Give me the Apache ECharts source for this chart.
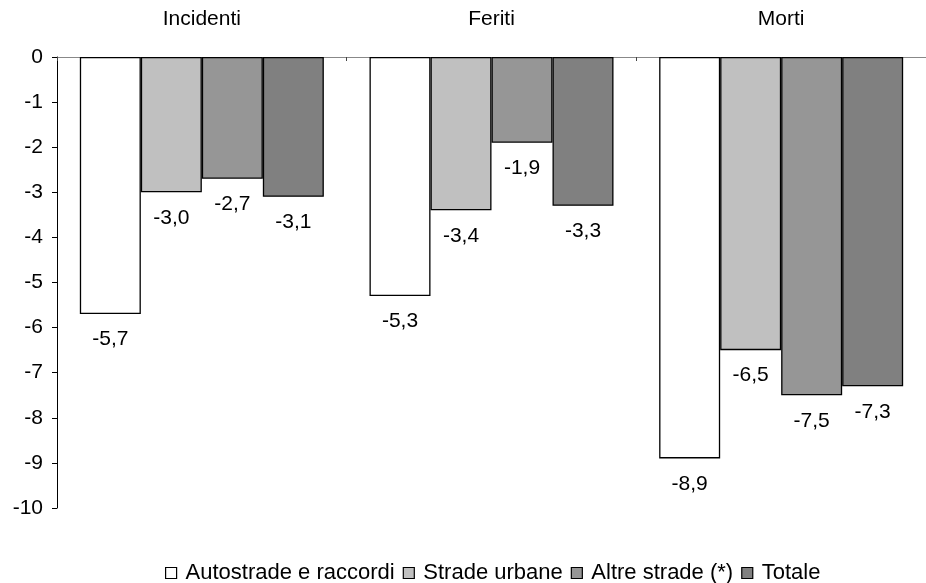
<!DOCTYPE html>
<html>
<head>
<meta charset="utf-8">
<script src="https://cdn.jsdelivr.net/npm/echarts@6/dist/echarts.min.js"></script>
<style>html,body{margin:0;padding:0;background:#fff;}#chart{width:926px;height:583px;}</style>
</head>
<body>
<div id="chart"></div>
<script>
var categories = ['Incidenti', 'Feriti', 'Morti'];
var seriesNames = ['Autostrade e raccordi', 'Strade urbane', 'Altre strade (*)', 'Totale'];
var autostrade = [-5.7, -5.3, -8.9];
var stradeUrbane = [-3.0, -3.4, -6.5];
var altreStrade = [-2.7, -1.9, -7.5];
var totale = [-3.1, -3.3, -7.3];
var yTicks = [0, -1, -2, -3, -4, -5, -6, -7, -8, -9, -10];

var allValues = [autostrade, stradeUrbane, altreStrade, totale];
var fills = ['#ffffff', '#c0c0c0', '#969696', '#808080'];
var FONT = '"Liberation Sans", Arial, sans-serif';

var chart = echarts.init(document.getElementById('chart'), null, {renderer: 'canvas'});
var series = seriesNames.map(function (name, i) {
  return {
    name: name,
    type: 'bar',
    data: allValues[i],
    barWidth: 61,
    barGap: '0%',
    itemStyle: {color: fills[i], borderColor: '#000', borderWidth: 1.3},
    label: {
      show: true,
      position: 'bottom',
      distance: 15,
      color: '#000',
      fontSize: 21,
      fontFamily: FONT,
      formatter: function (p) { return p.value.toFixed(1).replace('.', ','); }
    }
  };
});

chart.setOption({
  animation: false,
  backgroundColor: '#fff',
  grid: {left: 57, top: 57, width: 879, height: 451, containLabel: false},
  legend: {
    top: 557,
    left: 160,
    itemWidth: 11,
    itemHeight: 11,
    itemGap: 8,
    icon: 'rect',
    textStyle: {fontSize: 22, color: '#000', fontFamily: FONT, padding: [0, 0, 0, 4]},
    data: seriesNames.map(function (n, i) {
      return {name: n, itemStyle: {color: fills[i], borderColor: '#000', borderWidth: 1.2}};
    })
  },
  xAxis: {
    type: 'category',
    position: 'top',
    data: categories,
    axisLine: {show: true, lineStyle: {color: '#888888', width: 1}},
    axisTick: {show: true, inside: true, length: 4, lineStyle: {color: '#444'}},
    axisLabel: {color: '#000', fontSize: 21, fontFamily: FONT, margin: 27},
    splitLine: {show: false}
  },
  yAxis: {
    type: 'value',
    min: -10,
    max: 0,
    interval: 1,
    axisLine: {show: true, lineStyle: {color: '#000', width: 1}},
    axisTick: {show: true, length: 5, lineStyle: {color: '#000'}},
    axisLabel: {color: '#000', fontSize: 21, fontFamily: FONT, margin: 14,
      formatter: function (v) { return yTicks.indexOf(v) >= 0 ? String(v) : ''; }},
    splitLine: {show: false}
  },
  series: series
});
</script>
</body>
</html>
